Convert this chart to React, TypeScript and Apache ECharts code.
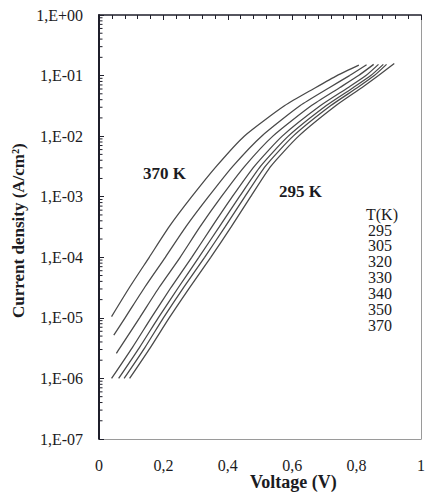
import React, { useEffect, useRef } from "react";
import * as echarts from "echarts";

// Temperatures (K) listed in the key
const TEMPS = [295, 305, 320, 330, 340, 350, 370];

// [voltage (V), current density (A/cm²)]
const CURVE_370 = [[0.039, 1.05e-5], [0.095, 3.2e-5], [0.156, 1e-4], [0.218, 3.2e-4], [0.288, 1e-3], [0.365, 3.2e-3], [0.451, 1e-2], [0.577, 3.2e-2], [0.672, 6.3e-2], [0.739, 0.1], [0.807, 0.149]];
const CURVE_350 = [[0.046, 5.2e-6], [0.081, 1e-5], [0.142, 3.2e-5], [0.206, 1e-4], [0.27, 3.2e-4], [0.34, 1e-3], [0.416, 3.2e-3], [0.505, 1e-2], [0.625, 3.2e-2], [0.715, 6.3e-2], [0.778, 0.1], [0.831, 0.151]];
const CURVE_340 = [[0.054, 2.6e-6], [0.065, 3.2e-6], [0.126, 1e-5], [0.187, 3.2e-5], [0.252, 1e-4], [0.314, 3.2e-4], [0.38, 1e-3], [0.453, 3.2e-3], [0.54, 1e-2], [0.66, 3.2e-2], [0.747, 6.3e-2], [0.806, 0.1], [0.853, 0.153]];
const CURVE_330 = [[0.039, 1e-6], [0.103, 3.2e-6], [0.162, 1e-5], [0.224, 3.2e-5], [0.288, 1e-4], [0.351, 3.2e-4], [0.414, 1e-3], [0.483, 3.2e-3], [0.569, 1e-2], [0.688, 3.2e-2], [0.773, 6.3e-2], [0.829, 0.1], [0.868, 0.153]];
const CURVE_320 = [[0.061, 1e-6], [0.125, 3.2e-6], [0.184, 1e-5], [0.247, 3.2e-5], [0.31, 1e-4], [0.374, 3.2e-4], [0.436, 1e-3], [0.502, 3.2e-3], [0.588, 1e-2], [0.706, 3.2e-2], [0.789, 6.3e-2], [0.844, 0.1], [0.883, 0.153]];
const CURVE_305 = [[0.078, 1e-6], [0.142, 3.2e-6], [0.2, 1e-5], [0.263, 3.2e-5], [0.328, 1e-4], [0.392, 3.2e-4], [0.453, 1e-3], [0.517, 3.2e-3], [0.603, 1e-2], [0.72, 3.2e-2], [0.802, 6.3e-2], [0.855, 0.1], [0.893, 0.153]];
const CURVE_295 = [[0.095, 1e-6], [0.159, 3.2e-6], [0.218, 1e-5], [0.282, 3.2e-5], [0.347, 1e-4], [0.411, 3.2e-4], [0.471, 1e-3], [0.534, 3.2e-3], [0.62, 1e-2], [0.736, 3.2e-2], [0.816, 6.3e-2], [0.868, 0.1], [0.917, 0.158]];

const CURVES = [CURVE_295, CURVE_305, CURVE_320, CURVE_330, CURVE_340, CURVE_350, CURVE_370];

// Log-axis minor tick positions (2..9 × each decade)
const MINOR_MULTIPLIERS = [2, 3, 4, 5, 6, 7, 8, 9];
const DECADES = [1e-7, 1e-6, 1e-5, 1e-4, 1e-3, 1e-2, 1e-1];

const FONT = "'Liberation Serif', 'Times New Roman', serif";
const TEXT_COLOR = "#1b1b22";
const DARK = "#1f1f2b";
const LIGHT = "#9a9a9a";

export default function App() {
  const ref = useRef<HTMLDivElement>(null);

  useEffect(() => {
    document.body.style.margin = "0";
    const chart = echarts.init(ref.current!, null, { renderer: "svg" });

    const minorData: number[][] = [];
    DECADES.forEach((d) => MINOR_MULTIPLIERS.forEach((m) => minorData.push([0, m * d])));

    const lineSeries = CURVES.map((c, i) => ({
      name: String(TEMPS[i]),
      type: "line",
      data: c,
      showSymbol: false,
      smooth: 0.2,
      lineStyle: { color: "#4a4a4a", width: 1.3 },
    }));

    const legendTexts = TEMPS.map((t, i) => ({
      type: "text",
      left: 368,
      top: 222 + i * 15.9,
      style: { text: String(t), font: `16px ${FONT}`, fill: TEXT_COLOR },
    }));

    chart.setOption({
      animation: false,
      grid: { left: 99, right: 3, top: 15, bottom: 56 },
      xAxis: [
        {
          type: "value",
          min: 0,
          max: 1,
          interval: 0.2,
          position: "bottom",
          axisLine: { show: true, onZero: false, lineStyle: { color: LIGHT, width: 1 } },
          axisTick: { show: false },
          splitLine: { show: false },
          axisLabel: {
            margin: 19,
            fontSize: 16,
            lineHeight: 14,
            fontFamily: FONT,
            color: TEXT_COLOR,
            formatter: (v: number) => String(Math.round(v * 10) / 10).replace(".", ","),
          },
        },
        {
          type: "value",
          min: 0,
          max: 1,
          interval: 0.2,
          position: "top",
          axisLine: { show: true, onZero: false, lineStyle: { color: DARK, width: 1.5 } },
          axisTick: { show: true, inside: true, length: 5, lineStyle: { color: DARK } },
          minorTick: { show: true, splitNumber: 5, length: 4, lineStyle: { color: DARK } },
          splitLine: { show: false },
          axisLabel: { show: false },
        },
      ],
      yAxis: [
        {
          type: "log",
          logBase: 10,
          min: 1e-7,
          max: 1,
          position: "left",
          axisLine: { show: true, onZero: false, lineStyle: { color: DARK, width: 2 } },
          axisTick: { show: true, inside: true, length: 5, lineStyle: { color: DARK } },
          splitLine: { show: false },
          axisLabel: {
            margin: 16,
            fontSize: 16,
            fontFamily: FONT,
            color: TEXT_COLOR,
            formatter: (v: number) => {
              const e = Math.round(Math.log10(v));
              return "1,E" + (e >= 0 ? "+" : "-") + String(Math.abs(e)).padStart(2, "0");
            },
          },
        },
        {
          type: "value",
          min: 0,
          max: 1,
          position: "right",
          axisLine: { show: true, onZero: false, lineStyle: { color: LIGHT, width: 1 } },
          axisTick: { show: false },
          axisLabel: { show: false },
          splitLine: { show: false },
        },
      ],
      series: [
        ...lineSeries,
        {
          type: "custom",
          xAxisIndex: 0,
          yAxisIndex: 0,
          data: minorData,
          clip: false,
          z: 5,
          renderItem: (params: any, api: any) => {
            const p = api.coord([0, api.value(1)]);
            return {
              type: "line",
              shape: { x1: p[0], y1: p[1], x2: p[0] + 3.5, y2: p[1] },
              style: { stroke: DARK, lineWidth: 1 },
            };
          },
        },
      ],
      graphic: [
        {
          type: "text",
          left: 250,
          top: 473,
          style: { text: "Voltage (V)", font: `bold 18px ${FONT}`, fill: TEXT_COLOR },
        },
        {
          type: "text",
          x: 10,
          y: 318,
          rotation: Math.PI / 2,
          style: { text: "Current density (A/cm²)", font: `bold 17px ${FONT}`, fill: TEXT_COLOR },
        },
        {
          type: "text",
          left: 143,
          top: 165,
          style: { text: "370 K", font: `bold 17px ${FONT}`, fill: TEXT_COLOR },
        },
        {
          type: "text",
          left: 279,
          top: 183,
          style: { text: "295 K", font: `bold 17px ${FONT}`, fill: TEXT_COLOR },
        },
        {
          type: "text",
          left: 366,
          top: 206,
          style: { text: "T(K)", font: `16px ${FONT}`, fill: TEXT_COLOR },
        },
        ...legendTexts,
      ],
    });

    return () => chart.dispose();
  }, []);

  return <div ref={ref} style={{ width: 428, height: 495 }} />;
}
